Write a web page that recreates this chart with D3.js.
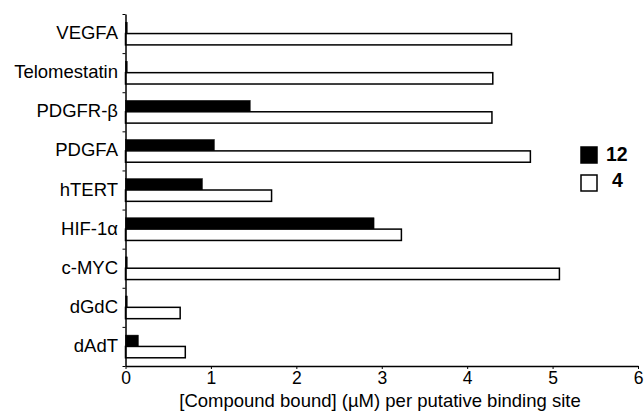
<!DOCTYPE html>
<html>
<head>
<meta charset="utf-8">
<script src="https://cdn.jsdelivr.net/npm/d3@7"></script>
<style>
  body { margin: 0; background: #fff; }
  svg { display: block; font-family: "Liberation Sans", Arial, sans-serif; }
</style>
</head>
<body>
<svg id="chart" width="644" height="412"></svg>
<script>
// categories top to bottom
const categories = ['VEGFA', 'Telomestatin', 'PDGFR-\u03b2', 'PDGFA', 'hTERT', 'HIF-1\u03b1', 'c-MYC', 'dGdC', 'dAdT'];
const series = ['12', '4'];
// bound concentration (uM) per site, compound 12 and compound 4
const values12 = [0.02, 0.02, 1.46, 1.04, 0.90, 2.91, 0.02, 0.02, 0.15];
const values4 = [4.52, 4.30, 4.29, 4.74, 1.71, 3.23, 5.08, 0.64, 0.70];
const xTicks = [0, 1, 2, 3, 4, 5, 6];

const svg = d3.select('#chart');
const x0 = 125.5, x1 = 638, yTop = 14, yBot = 366;

const x = d3.scaleLinear().domain([0, 6]).range([x0, x1]);
const y = d3.scaleBand().domain(categories).range([yTop, yBot])
    .paddingInner(0.42).paddingOuter(0.21);
const ySub = d3.scaleBand().domain(series).range([0, y.bandwidth()]);

const rows = categories.map((c, i) => ({cat: c, vals: [values12[i], values4[i]]}));

// bars
const g = svg.append('g');
const row = g.selectAll('g.row')
    .data(rows)
    .enter()
    .append('g')
    .attr('class', 'row')
    .attr('transform', d => 'translate(0,' + y(d.cat) + ')');

row.selectAll('rect')
    .data(d => d.vals.map((v, i) => ({s: series[i], v: v})))
    .enter()
    .append('rect')
    .attr('x', x(0))
    .attr('y', d => ySub(d.s))
    .attr('width', d => x(d.v) - x(0))
    .attr('height', ySub.bandwidth())
    .attr('fill', d => d.s === '12' ? '#000' : '#fff')
    .attr('stroke', '#000')
    .attr('stroke-width', d => d.s === '12' ? 0.5 : 1.5);

// y axis: ticks at category boundaries, labels drawn separately
const yEdges = d3.scaleLinear().domain([0, categories.length]).range([yTop, yBot]);
svg.append('g')
    .attr('transform', 'translate(' + x0 + ',0)')
    .call(d3.axisLeft(yEdges).ticks(categories.length).tickFormat('').tickSize(3).tickSizeOuter(0))
    .call(a => a.select('.domain').attr('stroke-width', 1.5));

svg.append('g').selectAll('text')
    .data(categories)
    .enter()
    .append('text')
    .attr('x', 118)
    .attr('y', d => y(d) + y.bandwidth() / 2 + 5.5)
    .attr('text-anchor', 'end')
    .attr('font-size', 18.5)
    .text(d => d);

// x axis
svg.append('g')
    .attr('transform', 'translate(0,' + yBot + ')')
    .call(d3.axisBottom(x).tickValues(xTicks).tickFormat(d3.format('d')).tickSize(3).tickSizeOuter(0))
    .call(a => a.select('.domain').attr('stroke-width', 1.5))
    .call(a => a.selectAll('text').attr('font-size', 17.5).attr('font-family', null).attr('fill', '#000'));

svg.append('text')
    .attr('x', 380)
    .attr('y', 407)
    .attr('text-anchor', 'middle')
    .attr('font-size', 18.5)
    .text('[Compound bound] (\u00b5M) per putative binding site');

// legend
const legend = svg.append('g').selectAll('g')
    .data(series)
    .enter()
    .append('g')
    .attr('transform', (d, i) => 'translate(581,' + (147 + i * 28) + ')');

legend.append('rect')
    .attr('width', 16)
    .attr('height', 16)
    .attr('fill', d => d === '12' ? '#000' : '#fff')
    .attr('stroke', '#000')
    .attr('stroke-width', 1.5);

legend.append('text')
    .attr('x', d => d === '12' ? 25 : 31)
    .attr('y', d => d === '12' ? 13.5 : 11.5)
    .attr('font-size', 19.5)
    .attr('font-weight', 'bold')
    .text(d => d);
</script>
</body>
</html>
